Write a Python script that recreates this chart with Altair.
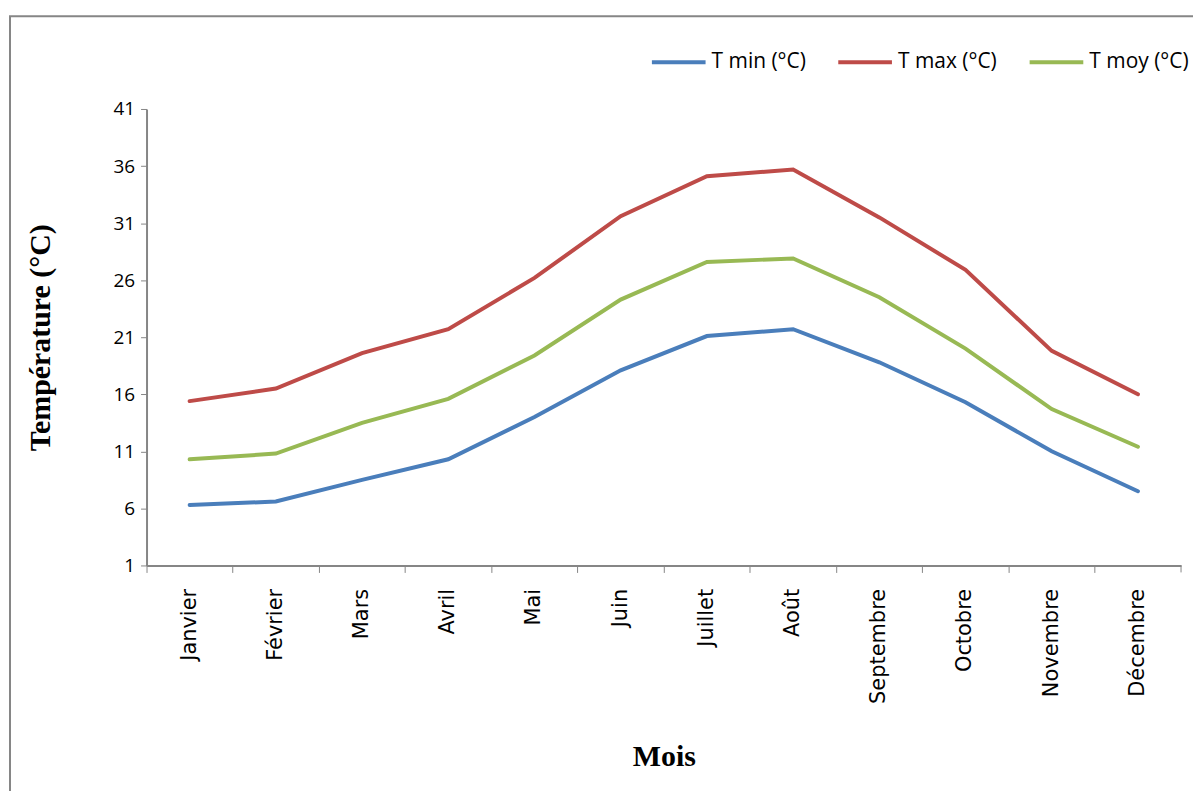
import altair as alt
import pandas as pd

months = ["Janvier", "Février", "Mars", "Avril", "Mai", "Juin", "Juillet",
          "Août", "Septembre", "Octobre", "Novembre", "Décembre"]
t_min = [6.3, 6.6, 8.5, 10.3, 14.0, 18.1, 21.1, 21.7, 18.8, 15.3, 11.0, 7.5]
t_max = [15.4, 16.5, 19.6, 21.7, 26.2, 31.6, 35.1, 35.7, 31.5, 26.9, 19.8, 16.0]
t_moy = [10.3, 10.8, 13.5, 15.6, 19.4, 24.3, 27.6, 27.9, 24.5, 20.0, 14.7, 11.4]
series_names = ["T min (°C)", "T max (°C)", "T moy (°C)"]
series_colors = ["#4A7EBB", "#BE4B48", "#98B954"]
y_ticks = [1, 6, 11, 16, 21, 26, 31, 36, 41]

rows = []
for name, vals in zip(series_names, [t_min, t_max, t_moy]):
    for m, v in zip(months, vals):
        rows.append({"Mois": m, "Série": name, "Valeur": v})
df = pd.DataFrame(rows)

W, H = 1038, 458

lines = alt.Chart(df).mark_line(strokeWidth=4, strokeCap="round").encode(
    x=alt.X("Mois:N", sort=months,
            scale=alt.Scale(type="band", paddingInner=0, paddingOuter=0),
            axis=alt.Axis(title="Mois", bandPosition=0,
                          labelAngle=270, labelAlign="right", labelBaseline="middle",
                          labelPadding=16, labelFont="DejaVu Sans", labelFontSize=21,
                          labelColor="black", tickColor="#868686", tickSize=7,
                          domainColor="#868686", domainWidth=2, tickWidth=1,
                          titleFont="Liberation Serif", titleFontSize=30,
                          titleFontWeight="bold", titleColor="black", titlePadding=38)),
    y=alt.Y("Valeur:Q",
            scale=alt.Scale(domain=[1, 41], nice=False, zero=False),
            axis=alt.Axis(title="Température (°C)", values=y_ticks, grid=False,
                          labelFont="Open Sans", labelFontSize=19, labelColor="black",
                          labelPadding=6, tickColor="#868686", tickSize=6,
                          domainColor="#868686", domainWidth=2,
                          titleFont="Liberation Serif", titleFontSize=30,
                          titleFontWeight="bold", titleColor="black", titlePadding=58)),
    color=alt.Color("Série:N", sort=series_names,
                    scale=alt.Scale(domain=series_names, range=series_colors),
                    legend=alt.Legend(title=None, orient="none", direction="horizontal",
                                      legendX=505, legendY=-76,
                                      symbolType="stroke", symbolStrokeWidth=4,
                                      symbolSize=2900, labelFont="Open Sans",
                                      labelFontSize=21, labelColor="black",
                                      labelOffset=4, columnPadding=24)),
)

end_tick = alt.Chart(pd.DataFrame({"a": [0]})).mark_rule(
    color="#868686", strokeWidth=1
).encode(x=alt.value(W), y=alt.value(H), y2=alt.value(H + 7))

border = alt.Chart(pd.DataFrame({"a": [0]})).mark_rect(
    fill=None, stroke="#868686", strokeWidth=2
).encode(x=alt.value(-137), x2=alt.value(1080), y=alt.value(-93), y2=alt.value(720))

chart = alt.layer(border, end_tick, lines).properties(
    width=W, height=H,
    autosize=alt.AutoSizeParams(type="none"),
    padding={"left": 139, "top": 100, "right": 12, "bottom": 225},
).configure(background="white").configure_view(stroke=None)

chart.save("out.html", embed_options={"renderer": "svg", "actions": False})
